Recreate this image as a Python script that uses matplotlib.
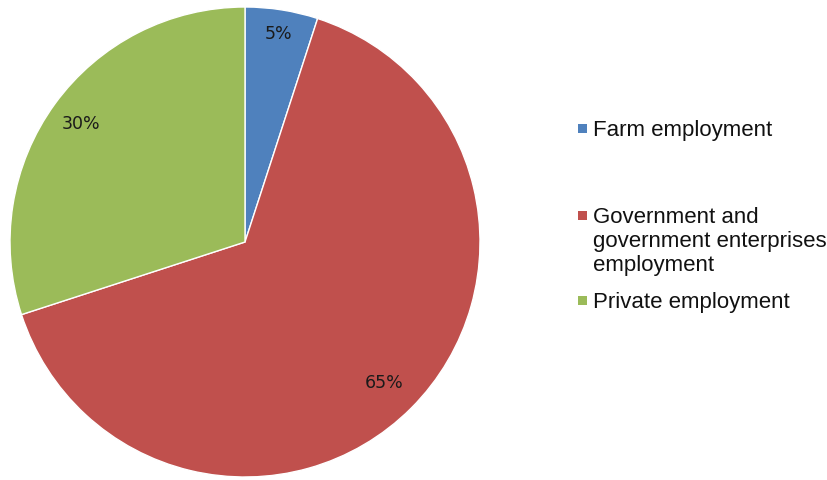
import matplotlib

matplotlib.use("Agg")
import numpy as np
import matplotlib.pyplot as plt
from matplotlib.patches import Rectangle

labels = ["Farm employment", "Government and\ngovernment enterprises\nemployment", "Private employment"]
shares = [5, 65, 30]
colors = ["#4F81BD", "#C0504D", "#9BBB59"]

W, H = 828, 481
fig = plt.figure(figsize=(W / 100, H / 100), dpi=100)

# pie axes, placed in pixel terms
cx, cy, r = 245, 243, 235
ax = fig.add_axes([(cx - r) / W, (H - cy - r) / H, 2 * r / W, 2 * r / H])
wedges, texts, autotexts = ax.pie(
    shares,
    colors=colors,
    startangle=90,
    counterclock=False,
    autopct="%d%%",
    pctdistance=0.87,
    wedgeprops={"edgecolor": "white", "linewidth": 1.0},
    textprops={"fontsize": 12.5, "color": "#1a1a1a", "family": "DejaVu Sans"},
)
# label distances differ a little per slice in the original
for w, t, d in zip(wedges, autotexts, [0.9, 0.84, 0.86]):
    ang = np.deg2rad((w.theta1 + w.theta2) / 2)
    t.set_position((d * np.cos(ang), d * np.sin(ang)))
ax.set_aspect("equal")
ax.set_xlim(-1, 1)
ax.set_ylim(-1, 1)

# legend drawn by hand to keep the uneven vertical spacing
legend_y = [130, 217, 302]
for lab, col, y in zip(labels, colors, legend_y):
    fig.patches.append(
        Rectangle((578 / W, (H - y - 4) / H), 9 / W, 9 / H,
                  transform=fig.transFigure, facecolor=col, edgecolor="none")
    )
    fig.text(593 / W, (H - y + 10) / H, lab, fontsize=16, family="Liberation Sans",
             va="top", ha="left", color="#111111", linespacing=1.2)

fig.savefig("out.png", dpi=100)
